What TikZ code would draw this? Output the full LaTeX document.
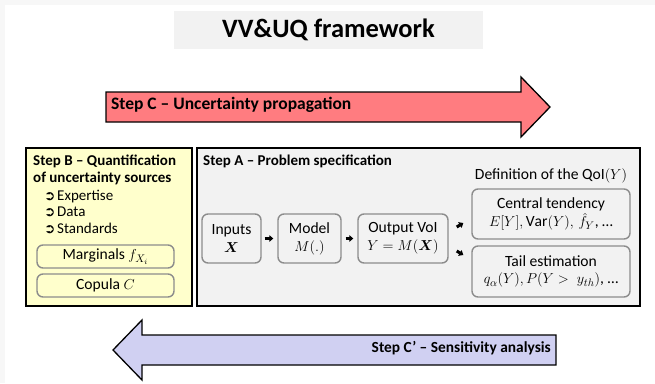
\documentclass[tikz,border=0pt]{standalone}
\usepackage{amsmath,bm}
\usepackage{fontspec}
\setmainfont{Carlito}
\newfontfamily\dingfont{DejaVu Sans}
\usetikzlibrary{calc,arrows.meta}

\definecolor{redarrow}{HTML}{FF7C80}
\definecolor{bluearrow}{HTML}{D0D0F2}
\definecolor{yellowbox}{HTML}{FFFFCC}
\definecolor{greybox}{HTML}{F2F2F2}
\definecolor{subborder}{HTML}{8C8C8C}
\definecolor{edgegrey}{HTML}{F7F7F7}

\tikzset{
  frame/.style={draw=black, line width=1.5pt},
  bigarrow/.style={draw=black, line width=1.3pt, line join=miter},
  subbox/.style={draw=subborder, line width=1.4pt, rounded corners=6pt,
    align=center, inner sep=0pt, font=\fontsize{15.6}{17.5}\selectfont},
  header/.style={inner sep=0pt, font=\fontsize{15}{17}\selectfont\bfseries},
  plain/.style={inner sep=0pt, font=\fontsize{15.6}{17}\selectfont},
  bullettxt/.style={inner sep=0pt, font=\fontsize{15}{16}\selectfont},
  smallarrow/.style={line width=3pt, -{Triangle[length=4pt,width=6.5pt]}},
}

\begin{document}
\begin{tikzpicture}[x=1pt,y=-1pt]
\useasboundingbox (0,0) rectangle (655,383);
% page background with a faint edge
\fill[edgegrey] (0,0) rectangle (655,383);
\fill[white] (5,5) rectangle (655,383);

% title
\node[fill=greybox, minimum width=309pt, minimum height=38pt, inner sep=0pt,
  font=\fontsize{26.5}{30}\selectfont\bfseries] (title) at (328.5,30) {VV\&UQ framework};

% Step C: forward arrow
\draw[bigarrow, fill=redarrow] (106,92) -- (521,92) -- (521,77) -- (550,107)
  -- (521,137) -- (521,122) -- (106,122) -- cycle;
\node[header, anchor=mid west, font=\fontsize{17.5}{19}\selectfont\bfseries] (stepC) at (111,107)
  {Step C – Uncertainty propagation};

% Step C': backward arrow
\draw[bigarrow, fill=bluearrow] (556,335) -- (142,335) -- (142,320) -- (113,350)
  -- (142,380) -- (142,365) -- (556,365) -- cycle;
\node[header, anchor=mid east, font=\fontsize{15.4}{17}\selectfont\bfseries] (stepCp) at (551,350)
  {Step C' – Sensitivity analysis};

% Step B panel
\draw[frame, fill=yellowbox] (26,148) rectangle (192,306);
\node[header, anchor=mid west] (stepB1) at (33,163) {Step B – Quantification};
\node[header, anchor=mid west] (stepB2) at (33,180) {of uncertainty sources};
\foreach \y/\t [count=\i] in {198/Expertise, 214/Data, 231/Standards}{
  \node[inner sep=0pt, anchor=mid west, font=\dingfont\bfseries\fontsize{13.5}{14}\selectfont] (bul\i) at (44,\y) {➲};
  \node[bullettxt, anchor=mid west] (item\i) at (57,\y) {\t};
}
\node[subbox, fill=yellowbox, minimum width=137pt, minimum height=23pt] (marg) at (105.5,256.5)
  {Marginals $f_{X_i}$};
\node[subbox, fill=yellowbox, minimum width=137pt, minimum height=23pt] (cop) at (105.5,285.5)
  {Copula $C$};

% Step A panel
\draw[frame, fill=greybox] (197,148) rectangle (640,306);
\node[header, anchor=mid west] (stepA) at (203,163) {Step A – Problem specification};

\node[subbox, fill=greybox, minimum width=59pt, minimum height=49pt,
  font=\fontsize{15.6}{18}\selectfont] (inp) at (231.5,238.5) {Inputs\\$\bm{X}$};
\node[subbox, fill=greybox, minimum width=63pt, minimum height=49pt,
  font=\fontsize{15.6}{18}\selectfont] (model) at (309.5,238.5) {Model\\$M(.)$};
\node[subbox, fill=greybox, minimum width=90pt, minimum height=49pt,
  font=\fontsize{15.6}{18}\selectfont] (out) at (403,238.5) {Output VoI\\$Y=M(\bm{X})$};

\node[plain, anchor=mid] (qoi) at (551,177) {Definition of the $\mathrm{QoI}(Y)$};
\node[subbox, fill=greybox, minimum width=158pt, minimum height=50pt,
  font=\fontsize{15.6}{18.5}\selectfont] (cent) at (551,214)
  {Central tendency\\$E[Y], \mathrm{Var}(Y),\, \hat{f}_Y$, \ldots};
\node[subbox, fill=greybox, minimum width=158pt, minimum height=51pt] (tail) at (551,271.5)
  {Tail estimation\\$q_{\alpha}(Y), P(Y>\;y_{th})$, \ldots};

% flow arrows
\draw[smallarrow] ($(inp.east)+(3,0)$) -- ($(model.west)+(-4,0)$);
\draw[smallarrow] ($(model.east)+(4,0)$) -- ($(out.west)+(-4,0)$);
\draw[smallarrow] ($(out.east)+(8,-11.5)$) -- ($(cent.west)+(-8,9)$);
\draw[smallarrow] ($(out.east)+(8,12.5)$) -- ($(tail.west)+(-8,-16.5)$);
\end{tikzpicture}
\end{document}
